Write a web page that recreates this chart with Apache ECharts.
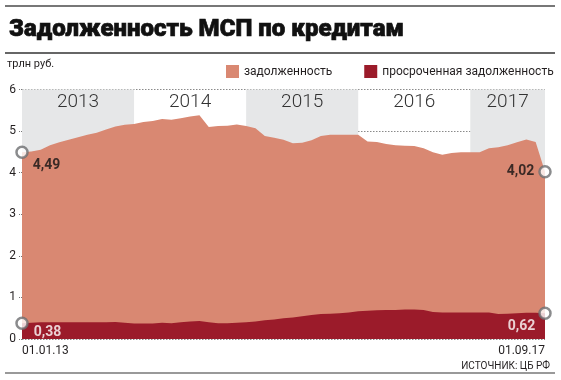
<!DOCTYPE html>
<html><head><meta charset="utf-8">
<script src="https://cdn.jsdelivr.net/npm/echarts@6/dist/echarts.min.js"></script>
<style>html,body{margin:0;padding:0;background:#fff}#c{width:561px;height:380px}</style>
</head><body><div id="c"></div>
<script>
var dates = ['01.01.13','01.02.13','01.03.13','01.04.13','01.05.13','01.06.13','01.07.13','01.08.13','01.09.13','01.10.13','01.11.13','01.12.13',
'01.01.14','01.02.14','01.03.14','01.04.14','01.05.14','01.06.14','01.07.14','01.08.14','01.09.14','01.10.14','01.11.14','01.12.14',
'01.01.15','01.02.15','01.03.15','01.04.15','01.05.15','01.06.15','01.07.15','01.08.15','01.09.15','01.10.15','01.11.15','01.12.15',
'01.01.16','01.02.16','01.03.16','01.04.16','01.05.16','01.06.16','01.07.16','01.08.16','01.09.16','01.10.16','01.11.16','01.12.16',
'01.01.17','01.02.17','01.03.17','01.04.17','01.05.17','01.06.17','01.07.17','01.08.17','01.09.17'];
var debt = [4.49,4.51,4.55,4.66,4.73,4.79,4.85,4.91,4.96,5.04,5.11,5.15,
5.17,5.22,5.24,5.29,5.27,5.31,5.35,5.38,5.10,5.12,5.13,5.16,
5.12,5.07,4.88,4.84,4.79,4.71,4.72,4.78,4.88,4.91,4.91,4.91,
4.91,4.75,4.74,4.69,4.66,4.65,4.64,4.59,4.49,4.43,4.47,4.49,
4.49,4.49,4.59,4.61,4.66,4.73,4.80,4.74,4.02];
var overdue = [0.38,0.39,0.40,0.40,0.40,0.40,0.40,0.40,0.40,0.40,0.41,0.39,
0.37,0.37,0.37,0.39,0.38,0.40,0.42,0.43,0.40,0.38,0.38,0.39,
0.40,0.42,0.45,0.47,0.50,0.52,0.55,0.58,0.60,0.61,0.62,0.64,
0.67,0.68,0.69,0.70,0.70,0.71,0.71,0.70,0.65,0.64,0.64,0.64,
0.64,0.64,0.64,0.60,0.61,0.62,0.63,0.63,0.62];
var years = ['2013','2014','2015','2016','2017'];
var yearStart = ['01.01.13','01.01.14','01.01.15','01.01.16','01.01.17'];
var yearEnd = ['01.01.14','01.01.15','01.01.16','01.01.17','01.09.17'];
var seriesNames = ['задолженность','просроченная задолженность'];

var FONT = 'Roboto';
var chart = echarts.init(document.getElementById('c'), null, {renderer:'canvas'});
var bands = years.map(function(y,i){
  return [{name:y, xAxis:yearStart[i], itemStyle:{color: i%2===0 ? '#e6e7e8' : 'rgba(255,255,255,0)'}},{xAxis:yearEnd[i]}];
});
function fmt(v){return v.toFixed(2).replace('.',',');}
var last = dates.length-1;
var ptStyle = {color:'#ffffff', borderColor:'#6d6e71', borderWidth:2.5};
var valLabel = {show:true, fontSize:14, fontWeight:'bold'};
function lab(extra){ return Object.assign({}, valLabel, extra); }
chart.setOption({
  animation:false,
  textStyle:{fontFamily:FONT},
  title:{text:'Задолженность МСП по кредитам', left:4, top:13,
    textStyle:{fontFamily:FONT, fontWeight:900, fontSize:24, color:'#111', textBorderColor:'#111', textBorderWidth:0.7}},
  legend:{left:221, top:60, itemWidth:13, itemHeight:13, itemGap:32, icon:'rect',
    data:seriesNames, textStyle:{fontSize:12, color:'#231f20', fontFamily:FONT}},
  grid:{left:22, right:16, top:89.5, bottom:41},
  xAxis:{type:'category', data:dates, boundaryGap:false,
    axisLine:{show:false}, axisTick:{show:false},
    axisLabel:{interval:function(i){return i===0||i===last;}, alignMinLabel:'left', alignMaxLabel:'right',
      fontSize:12, color:'#231f20', margin:6}},
  yAxis:{type:'value', min:0, max:6, interval:1,
    axisLine:{show:false},
    axisTick:{show:true, length:3, lineStyle:{color:'#777', type:'dotted'}},
    axisLabel:{fontSize:12, color:'#231f20', margin:6},
    splitLine:{show:true, lineStyle:{color:'#8a8a8a', type:[1.5,1.5], width:1}}},
  graphic:[
    {type:'line', shape:{x1:5,y1:6,x2:555,y2:6}, style:{stroke:'#777',lineWidth:2}},
    {type:'line', shape:{x1:5,y1:53,x2:555,y2:53}, style:{stroke:'#666',lineWidth:2}},
    {type:'line', shape:{x1:5,y1:373,x2:555,y2:373}, style:{stroke:'#777',lineWidth:1.5}},
    {type:'text', left:7, top:59, style:{text:'трлн руб.', fontSize:11, fill:'#231f20', fontFamily:FONT}},
    {type:'text', right:11, top:361, style:{text:'ИСТОЧНИК: ЦБ РФ', fontSize:10, fill:'#231f20', fontFamily:FONT}}
  ],
  series:[
    {name:seriesNames[0], type:'line', data:debt, symbol:'none', z:2,
      color:'#d98872', lineStyle:{width:0}, areaStyle:{color:'#d98872', opacity:1},
      markArea:{silent:true, label:{show:true, position:'insideTop', distance:3, fontSize:19, fontWeight:300, color:'#333', fontFamily:FONT},
        data:bands}},
    {name:seriesNames[1], type:'line', data:overdue, symbol:'none', z:3,
      color:'#9b1b2a', lineStyle:{width:0}, areaStyle:{color:'#9b1b2a', opacity:1}},
    {type:'scatter', z:10, symbol:'circle', symbolSize:11, itemStyle:ptStyle, silent:true,
      data:[
        {value:[0, debt[0]], label:lab({formatter:fmt(debt[0]), position:'right', distance:4, offset:[0,13], color:'#111'})},
        {value:[last, debt[last]], label:lab({formatter:fmt(debt[last]), position:'left', distance:4, offset:[0,0], color:'#111'})},
        {value:[0, overdue[0]], label:lab({formatter:fmt(overdue[0]), position:'right', distance:5, offset:[0,9.5], color:'#fff'})},
        {value:[last, overdue[last]], label:lab({formatter:fmt(overdue[last]), position:'left', distance:3, offset:[0,13], color:'#fff'})}
      ]}
  ]
});
</script></body></html>
